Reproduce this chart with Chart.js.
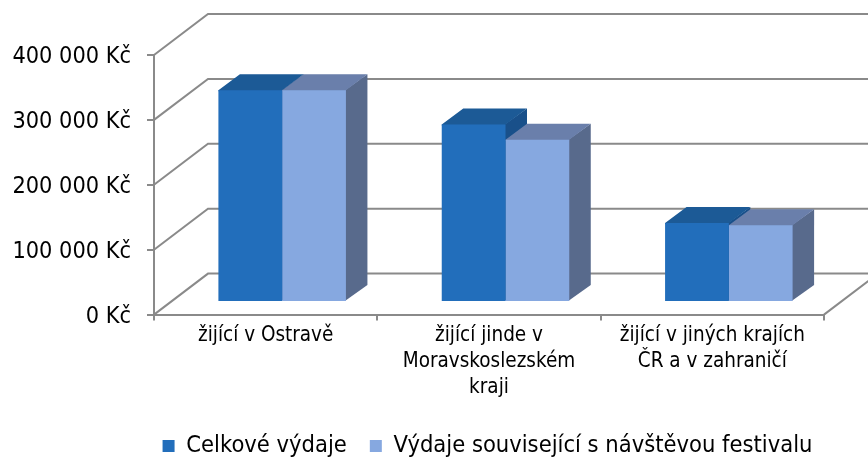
<!DOCTYPE html>
<html>
<head>
<meta charset="utf-8">
<script src="https://cdn.jsdelivr.net/npm/chart.js@4"></script>
<style>
  html, body { margin: 0; padding: 0; background: #fff; }
  #wrap { width: 868px; height: 460px; }
</style>
</head>
<body>
<div id="wrap"><canvas id="chart"></canvas></div>
<script>
const categories = [['žijící v Ostravě'], ['žijící jinde v', 'Moravskoslezském', 'kraji'], ['žijící v jiných krajích', 'ČR a v zahraničí']];
const seriesNames = ['Celkové výdaje', 'Výdaje související s návštěvou festivalu'];
const totalSpend = [326000, 273500, 121500];
const festivalSpend = [326000, 250000, 118000];
const yTickLabels = ['0 Kč', '100 000 Kč', '200 000 Kč', '300 000 Kč', '400 000 Kč'];

const FONT = "'DejaVu Sans Condensed', 'Noto Sans', sans-serif";
const LINE = '#8a8a8a';
const WALL_DX = 54, WALL_DY = -41;   // back wall offset
const BAR_DX = 16.5, BAR_DY = -12.7; // bars stand a bit behind the front plane
const DEPTH_DX = 21.5, DEPTH_DY = -16;
const LEGEND_SHIFT = 75.5;           // legend sits centred under the plot, not the page
const Y_LABEL_DROP = 2;

function poly(ctx, color, pts) {
  ctx.fillStyle = color;
  ctx.beginPath();
  pts.forEach((p, i) => (i ? ctx.lineTo(p[0], p[1]) : ctx.moveTo(p[0], p[1])));
  ctx.closePath();
  ctx.fill();
}

const box3d = {
  id: 'box3d',
  afterLayout(chart) {
    chart.legend.left += LEGEND_SHIFT;
    chart.legend.right += LEGEND_SHIFT;
    chart.scales.y.getLabelItems().forEach((item) => { item.options.translation[1] += Y_LABEL_DROP; });
  },
  beforeDatasetsDraw(chart) {
    const { ctx, chartArea: a, scales: { y } } = chart;
    ctx.save();
    ctx.strokeStyle = LINE;
    ctx.lineWidth = 2;
    ctx.beginPath();
    y.ticks.forEach((t) => {
      const py = y.getPixelForValue(t.value);
      ctx.moveTo(a.left, py);
      ctx.lineTo(a.left + WALL_DX, py + WALL_DY);
      ctx.lineTo(chart.width, py + WALL_DY);
    });
    // floor edge on the right
    ctx.moveTo(a.right, a.bottom);
    ctx.lineTo(a.right + WALL_DX, a.bottom + WALL_DY);
    ctx.stroke();
    ctx.restore();

    // side and top faces first, the library then paints the fronts over them
    // (they run 1px under the front so no seam shows)
    ctx.save();
    ctx.translate(BAR_DX, BAR_DY);
    chart.data.datasets.forEach((ds, i) => {
      chart.getDatasetMeta(i).data.forEach((bar) => {
        const l = bar.x - bar.width / 2, r = bar.x + bar.width / 2;
        poly(ctx, ds.sideColor, [[r - 1, bar.y], [r + DEPTH_DX, bar.y + DEPTH_DY], [r + DEPTH_DX, bar.base + DEPTH_DY], [r - 1, bar.base]]);
        poly(ctx, ds.topColor, [[l, bar.y + 1], [l, bar.y], [l + DEPTH_DX, bar.y + DEPTH_DY], [r + DEPTH_DX, bar.y + DEPTH_DY], [r, bar.y], [r, bar.y + 1]]);
      });
    });
  },
  afterDatasetsDraw(chart) {
    chart.ctx.restore();
  },
};

new Chart(document.getElementById('chart'), {
  type: 'bar',
  data: {
    labels: categories,
    datasets: [
      { label: seriesNames[0], data: totalSpend, backgroundColor: '#226EBB', topColor: '#1C5A96', sideColor: '#19508A', clip: false },
      { label: seriesNames[1], data: festivalSpend, backgroundColor: '#86A8E0', topColor: '#6A7FAB', sideColor: '#586A8C', clip: false },
    ],
  },
  options: {
    responsive: true,
    maintainAspectRatio: false,
    animation: false,
    events: [],
    layout: { padding: { top: 55, right: 44, left: 0, bottom: -7.7 } },
    datasets: { bar: { categoryPercentage: 0.571, barPercentage: 1 } },
    plugins: {
      tooltip: { enabled: false },
      legend: {
        position: 'bottom',
        labels: { boxWidth: 12, boxHeight: 12, padding: 23, color: '#000', font: { family: FONT, size: 23.5 } },
      },
    },
    scales: {
      x: {
        afterFit(scale) { scale.height = 96.6; },
        grid: { drawOnChartArea: false, drawTicks: true, tickLength: 6, color: LINE, lineWidth: 2 },
        border: { color: LINE, width: 2 },
        ticks: { autoSkip: false, maxRotation: 0, padding: 2, color: '#000', font: { family: FONT, size: 20.5, lineHeight: 1.27 } },
      },
      y: {
        min: 0,
        max: 400000,
        afterFit(scale) { scale.width = 154; },
        grid: { drawOnChartArea: false, drawTicks: true, tickLength: 7, color: LINE, lineWidth: 2 },
        border: { color: LINE, width: 2 },
        ticks: {
          stepSize: 100000,
          padding: 16,
          color: '#000',
          font: { family: FONT, size: 23.3 },
          callback: (v, i) => yTickLabels[i],
        },
      },
    },
  },
  plugins: [box3d],
});
</script>
</body>
</html>
